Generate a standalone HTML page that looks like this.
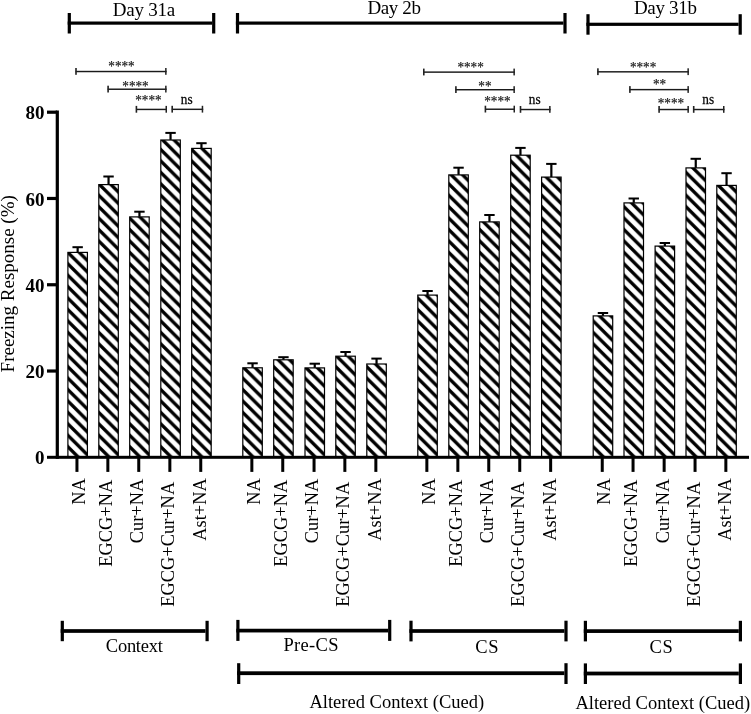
<!DOCTYPE html>
<html><head><meta charset="utf-8"><title>Freezing Response</title>
<style>
html,body{margin:0;padding:0;background:#fff;}
body{width:751px;height:714px;overflow:hidden;}
svg{display:block;}
text{font-family:"Liberation Serif","Times New Roman",serif;fill:#000;}
.b{font-weight:bold;}
</style></head><body>
<svg width="751" height="714" viewBox="0 0 751 714">
<defs>
<pattern id="h" patternUnits="userSpaceOnUse" x="0" y="-11.15" width="11.43" height="11.43"><path d="M-11.43,-11.43 L22.86,22.86 M-22.86,-11.43 L11.43,22.86 M0,-11.43 L34.29,22.86" stroke="#000" stroke-width="3.323"/></pattern>
</defs>
<rect width="751" height="714" fill="#fff"/>
<rect x="76.55" y="247.20" width="2.2" height="5.10" fill="#000"/><rect x="72.45" y="246.20" width="10.4" height="2" fill="#000"/><g transform="translate(67.30,457.3)"><rect x="0.6" y="-204.90" width="19.50" height="204.90" fill="url(#h)" stroke="#000" stroke-width="1.2"/></g>
<rect x="107.45" y="176.50" width="2.2" height="8.00" fill="#000"/><rect x="103.35" y="175.50" width="10.4" height="2" fill="#000"/><g transform="translate(98.20,457.3)"><rect x="0.6" y="-272.70" width="19.50" height="272.70" fill="url(#h)" stroke="#000" stroke-width="1.2"/></g>
<rect x="138.35" y="211.70" width="2.2" height="5.10" fill="#000"/><rect x="134.25" y="210.70" width="10.4" height="2" fill="#000"/><g transform="translate(129.10,457.3)"><rect x="0.6" y="-240.40" width="19.50" height="240.40" fill="url(#h)" stroke="#000" stroke-width="1.2"/></g>
<rect x="169.45" y="132.90" width="2.2" height="7.00" fill="#000"/><rect x="165.35" y="131.90" width="10.4" height="2" fill="#000"/><g transform="translate(160.20,457.3)"><rect x="0.6" y="-317.30" width="19.50" height="317.30" fill="url(#h)" stroke="#000" stroke-width="1.2"/></g>
<rect x="200.35" y="143.20" width="2.2" height="5.10" fill="#000"/><rect x="196.25" y="142.20" width="10.4" height="2" fill="#000"/><g transform="translate(191.10,457.3)"><rect x="0.6" y="-308.90" width="19.50" height="308.90" fill="url(#h)" stroke="#000" stroke-width="1.2"/></g>
<rect x="251.45" y="363.30" width="2.2" height="4.40" fill="#000"/><rect x="247.35" y="362.30" width="10.4" height="2" fill="#000"/><g transform="translate(242.20,457.3)"><rect x="0.6" y="-89.50" width="19.50" height="89.50" fill="url(#h)" stroke="#000" stroke-width="1.2"/></g>
<rect x="282.35" y="357.20" width="2.2" height="2.50" fill="#000"/><rect x="278.25" y="356.20" width="10.4" height="2" fill="#000"/><g transform="translate(273.10,457.3)"><rect x="0.6" y="-97.50" width="19.50" height="97.50" fill="url(#h)" stroke="#000" stroke-width="1.2"/></g>
<rect x="313.65" y="363.70" width="2.2" height="4.10" fill="#000"/><rect x="309.55" y="362.70" width="10.4" height="2" fill="#000"/><g transform="translate(304.40,457.3)"><rect x="0.6" y="-89.40" width="19.50" height="89.40" fill="url(#h)" stroke="#000" stroke-width="1.2"/></g>
<rect x="344.45" y="352.00" width="2.2" height="4.10" fill="#000"/><rect x="340.35" y="351.00" width="10.4" height="2" fill="#000"/><g transform="translate(335.20,457.3)"><rect x="0.6" y="-101.10" width="19.50" height="101.10" fill="url(#h)" stroke="#000" stroke-width="1.2"/></g>
<rect x="375.45" y="358.60" width="2.2" height="5.30" fill="#000"/><rect x="371.35" y="357.60" width="10.4" height="2" fill="#000"/><g transform="translate(366.20,457.3)"><rect x="0.6" y="-93.30" width="19.50" height="93.30" fill="url(#h)" stroke="#000" stroke-width="1.2"/></g>
<rect x="426.45" y="291.00" width="2.2" height="4.00" fill="#000"/><rect x="422.35" y="290.00" width="10.4" height="2" fill="#000"/><g transform="translate(417.20,457.3)"><rect x="0.6" y="-162.20" width="19.50" height="162.20" fill="url(#h)" stroke="#000" stroke-width="1.2"/></g>
<rect x="457.45" y="167.70" width="2.2" height="7.10" fill="#000"/><rect x="453.35" y="166.70" width="10.4" height="2" fill="#000"/><g transform="translate(448.20,457.3)"><rect x="0.6" y="-282.40" width="19.50" height="282.40" fill="url(#h)" stroke="#000" stroke-width="1.2"/></g>
<rect x="488.35" y="215.00" width="2.2" height="6.80" fill="#000"/><rect x="484.25" y="214.00" width="10.4" height="2" fill="#000"/><g transform="translate(479.10,457.3)"><rect x="0.6" y="-235.40" width="19.50" height="235.40" fill="url(#h)" stroke="#000" stroke-width="1.2"/></g>
<rect x="519.35" y="147.90" width="2.2" height="7.20" fill="#000"/><rect x="515.25" y="146.90" width="10.4" height="2" fill="#000"/><g transform="translate(510.10,457.3)"><rect x="0.6" y="-302.10" width="19.50" height="302.10" fill="url(#h)" stroke="#000" stroke-width="1.2"/></g>
<rect x="550.25" y="163.90" width="2.2" height="13.10" fill="#000"/><rect x="546.15" y="162.90" width="10.4" height="2" fill="#000"/><g transform="translate(541.00,457.3)"><rect x="0.6" y="-280.20" width="19.50" height="280.20" fill="url(#h)" stroke="#000" stroke-width="1.2"/></g>
<rect x="601.85" y="313.00" width="2.2" height="2.80" fill="#000"/><rect x="597.75" y="312.00" width="10.4" height="2" fill="#000"/><g transform="translate(592.60,457.3)"><rect x="0.6" y="-141.40" width="19.50" height="141.40" fill="url(#h)" stroke="#000" stroke-width="1.2"/></g>
<rect x="632.65" y="198.50" width="2.2" height="4.30" fill="#000"/><rect x="628.55" y="197.50" width="10.4" height="2" fill="#000"/><g transform="translate(623.40,457.3)"><rect x="0.6" y="-254.40" width="19.50" height="254.40" fill="url(#h)" stroke="#000" stroke-width="1.2"/></g>
<rect x="663.75" y="243.00" width="2.2" height="3.00" fill="#000"/><rect x="659.65" y="242.00" width="10.4" height="2" fill="#000"/><g transform="translate(654.50,457.3)"><rect x="0.6" y="-211.20" width="19.50" height="211.20" fill="url(#h)" stroke="#000" stroke-width="1.2"/></g>
<rect x="694.65" y="158.80" width="2.2" height="9.00" fill="#000"/><rect x="690.55" y="157.80" width="10.4" height="2" fill="#000"/><g transform="translate(685.40,457.3)"><rect x="0.6" y="-289.40" width="19.50" height="289.40" fill="url(#h)" stroke="#000" stroke-width="1.2"/></g>
<rect x="725.45" y="173.20" width="2.2" height="12.10" fill="#000"/><rect x="721.35" y="172.20" width="10.4" height="2" fill="#000"/><g transform="translate(716.20,457.3)"><rect x="0.6" y="-271.90" width="19.50" height="271.90" fill="url(#h)" stroke="#000" stroke-width="1.2"/></g>
<rect x="47" y="455.8" width="702" height="3.0" fill="#000"/>
<rect x="55.7" y="110.5" width="3.2" height="348.30" fill="#000"/>
<rect x="47" y="369.42" width="10" height="3.2" fill="#000"/><text class="b" x="44.6" y="378.12" font-size="19" text-anchor="end">20</text>
<rect x="47" y="283.15" width="10" height="3.2" fill="#000"/><text class="b" x="44.6" y="291.85" font-size="19" text-anchor="end">40</text>
<rect x="47" y="196.87" width="10" height="3.2" fill="#000"/><text class="b" x="44.6" y="205.57" font-size="19" text-anchor="end">60</text>
<rect x="47" y="110.60" width="10" height="3.2" fill="#000"/><text class="b" x="44.6" y="119.30" font-size="19" text-anchor="end">80</text>
<text class="b" x="44.6" y="464.40" font-size="19" text-anchor="end">0</text>
<rect x="75.45" y="457.30" width="3" height="14.60" fill="#000"/><text transform="translate(84.85,478.30) rotate(-90)" font-size="18.4" text-anchor="end">NA</text>
<rect x="106.35" y="457.30" width="3" height="14.60" fill="#000"/><text transform="translate(111.95,479.80) rotate(-90)" font-size="18.4" text-anchor="end">EGCG+NA</text>
<rect x="137.25" y="457.30" width="3" height="14.60" fill="#000"/><text transform="translate(143.15,478.80) rotate(-90)" font-size="18.4" text-anchor="end">Cur+NA</text>
<rect x="168.35" y="457.30" width="3" height="14.60" fill="#000"/><text transform="translate(174.45,481.80) rotate(-90)" font-size="18.4" text-anchor="end">EGCG+Cur+NA</text>
<rect x="199.25" y="457.30" width="3" height="14.60" fill="#000"/><text transform="translate(205.75,478.30) rotate(-90)" font-size="18.4" text-anchor="end">Ast+NA</text>
<rect x="250.35" y="457.30" width="3" height="14.60" fill="#000"/><text transform="translate(259.75,478.30) rotate(-90)" font-size="18.4" text-anchor="end">NA</text>
<rect x="281.25" y="457.30" width="3" height="14.60" fill="#000"/><text transform="translate(286.85,479.80) rotate(-90)" font-size="18.4" text-anchor="end">EGCG+NA</text>
<rect x="312.55" y="457.30" width="3" height="14.60" fill="#000"/><text transform="translate(318.45,478.80) rotate(-90)" font-size="18.4" text-anchor="end">Cur+NA</text>
<rect x="343.35" y="457.30" width="3" height="14.60" fill="#000"/><text transform="translate(349.45,481.80) rotate(-90)" font-size="18.4" text-anchor="end">EGCG+Cur+NA</text>
<rect x="374.35" y="457.30" width="3" height="14.60" fill="#000"/><text transform="translate(380.85,478.30) rotate(-90)" font-size="18.4" text-anchor="end">Ast+NA</text>
<rect x="425.35" y="457.30" width="3" height="14.60" fill="#000"/><text transform="translate(434.75,478.30) rotate(-90)" font-size="18.4" text-anchor="end">NA</text>
<rect x="456.35" y="457.30" width="3" height="14.60" fill="#000"/><text transform="translate(461.95,479.80) rotate(-90)" font-size="18.4" text-anchor="end">EGCG+NA</text>
<rect x="487.25" y="457.30" width="3" height="14.60" fill="#000"/><text transform="translate(493.15,478.80) rotate(-90)" font-size="18.4" text-anchor="end">Cur+NA</text>
<rect x="518.25" y="457.30" width="3" height="14.60" fill="#000"/><text transform="translate(524.35,481.80) rotate(-90)" font-size="18.4" text-anchor="end">EGCG+Cur+NA</text>
<rect x="549.15" y="457.30" width="3" height="14.60" fill="#000"/><text transform="translate(555.65,478.30) rotate(-90)" font-size="18.4" text-anchor="end">Ast+NA</text>
<rect x="600.75" y="457.30" width="3" height="14.60" fill="#000"/><text transform="translate(610.15,478.30) rotate(-90)" font-size="18.4" text-anchor="end">NA</text>
<rect x="631.55" y="457.30" width="3" height="14.60" fill="#000"/><text transform="translate(637.15,479.80) rotate(-90)" font-size="18.4" text-anchor="end">EGCG+NA</text>
<rect x="662.65" y="457.30" width="3" height="14.60" fill="#000"/><text transform="translate(668.55,478.80) rotate(-90)" font-size="18.4" text-anchor="end">Cur+NA</text>
<rect x="693.55" y="457.30" width="3" height="14.60" fill="#000"/><text transform="translate(699.65,481.80) rotate(-90)" font-size="18.4" text-anchor="end">EGCG+Cur+NA</text>
<rect x="724.35" y="457.30" width="3" height="14.60" fill="#000"/><text transform="translate(730.85,478.30) rotate(-90)" font-size="18.4" text-anchor="end">Ast+NA</text>
<text transform="translate(13.9,283.8) rotate(-90)" font-size="19" text-anchor="middle">Freezing Response (%)</text>
<rect x="67.70" y="21.50" width="144.40" height="3.2" fill="#000"/><rect x="67.70" y="13.00" width="3.2" height="20.50" fill="#000"/><rect x="212.10" y="13.00" width="3.2" height="20.50" fill="#000"/>
<text x="143.9" y="15.9" font-size="19" letter-spacing="-0.25" text-anchor="middle">Day 31a</text>
<rect x="235.90" y="21.50" width="327.50" height="3.2" fill="#000"/><rect x="235.90" y="13.00" width="3.2" height="20.50" fill="#000"/><rect x="563.40" y="13.00" width="3.2" height="20.50" fill="#000"/>
<text x="394.0" y="13.8" font-size="19" letter-spacing="-0.4" text-anchor="middle">Day 2b</text>
<rect x="586.40" y="22.70" width="152.20" height="3.2" fill="#000"/><rect x="586.40" y="14.20" width="3.2" height="20.50" fill="#000"/><rect x="738.60" y="14.20" width="3.2" height="20.50" fill="#000"/>
<text x="665.3" y="14.2" font-size="19" letter-spacing="-0.3" text-anchor="middle">Day 31b</text>
<rect x="60.70" y="629.15" width="144.80" height="3.7" fill="#000"/><rect x="60.70" y="620.80" width="3.2" height="20.40" fill="#000"/><rect x="205.50" y="620.80" width="3.2" height="20.40" fill="#000"/>
<text x="134.2" y="651.9" font-size="18.5" letter-spacing="-0.27" text-anchor="middle">Context</text>
<rect x="236.30" y="628.75" width="151.80" height="3.7" fill="#000"/><rect x="236.30" y="619.90" width="3.2" height="21.00" fill="#000"/><rect x="388.10" y="619.90" width="3.2" height="21.00" fill="#000"/>
<text x="311.1" y="650.9" font-size="18.5" letter-spacing="0.3" text-anchor="middle">Pre-CS</text>
<rect x="409.40" y="629.15" width="155.00" height="3.7" fill="#000"/><rect x="409.40" y="620.70" width="3.2" height="20.70" fill="#000"/><rect x="564.40" y="620.70" width="3.2" height="20.70" fill="#000"/>
<text x="487.3" y="652.6" font-size="18.5" letter-spacing="0.8" text-anchor="middle">CS</text>
<rect x="583.80" y="629.25" width="155.00" height="3.7" fill="#000"/><rect x="583.80" y="620.80" width="3.2" height="20.60" fill="#000"/><rect x="738.80" y="620.80" width="3.2" height="20.60" fill="#000"/>
<text x="661.5" y="652.9" font-size="18.5" letter-spacing="0.8" text-anchor="middle">CS</text>
<rect x="237.10" y="671.30" width="327.30" height="3.8" fill="#000"/><rect x="237.10" y="663.20" width="3.2" height="20.80" fill="#000"/><rect x="564.40" y="663.20" width="3.2" height="20.80" fill="#000"/>
<text x="396.8" y="708" font-size="18.5" text-anchor="middle">Altered Context (Cued)</text>
<rect x="583.80" y="671.60" width="155.00" height="3.8" fill="#000"/><rect x="583.80" y="663.40" width="3.2" height="20.60" fill="#000"/><rect x="738.80" y="663.40" width="3.2" height="20.60" fill="#000"/>
<text x="662.8" y="709.3" font-size="18.5" text-anchor="middle">Altered Context (Cued)</text>
<rect x="75.60" y="70.80" width="91.00" height="1.45" fill="#1a1a1a"/><rect x="75.20" y="68.00" width="1.6" height="6.8" fill="#222"/><rect x="165.10" y="68.00" width="1.5" height="6.8" fill="#222"/><text transform="translate(121.50,71.30) scale(1,1.12)" font-size="13.2" text-anchor="middle" fill="#333" stroke="#333" stroke-width="0.2">****</text>
<rect x="107.70" y="88.50" width="58.90" height="1.45" fill="#1a1a1a"/><rect x="107.30" y="85.70" width="1.6" height="6.8" fill="#222"/><rect x="165.10" y="85.70" width="1.5" height="6.8" fill="#222"/><text transform="translate(135.50,90.70) scale(1,1.12)" font-size="13.2" text-anchor="middle" fill="#333" stroke="#333" stroke-width="0.2">****</text>
<rect x="136.00" y="108.70" width="31.00" height="1.45" fill="#1a1a1a"/><rect x="135.60" y="105.90" width="1.6" height="6.8" fill="#222"/><rect x="165.50" y="105.90" width="1.5" height="6.8" fill="#222"/><text transform="translate(148.40,105.30) scale(1,1.12)" font-size="13.2" text-anchor="middle" fill="#333" stroke="#333" stroke-width="0.2">****</text>
<rect x="171.80" y="108.60" width="31.40" height="1.45" fill="#1a1a1a"/><rect x="171.40" y="105.80" width="1.6" height="6.8" fill="#222"/><rect x="201.70" y="105.80" width="1.5" height="6.8" fill="#222"/><text transform="translate(186.70,103.80) scale(1,1.08)" font-size="13.3" text-anchor="middle" fill="#111" stroke="#111" stroke-width="0.25">ns</text>
<rect x="423.40" y="71.40" width="91.50" height="1.45" fill="#1a1a1a"/><rect x="423.00" y="68.60" width="1.6" height="6.8" fill="#222"/><rect x="513.40" y="68.60" width="1.5" height="6.8" fill="#222"/><text transform="translate(470.60,71.60) scale(1,1.12)" font-size="13.2" text-anchor="middle" fill="#333" stroke="#333" stroke-width="0.2">****</text>
<rect x="455.50" y="89.00" width="59.40" height="1.45" fill="#1a1a1a"/><rect x="455.10" y="86.20" width="1.6" height="6.8" fill="#222"/><rect x="513.40" y="86.20" width="1.5" height="6.8" fill="#222"/><text transform="translate(484.90,90.50) scale(1,1.12)" font-size="13.2" text-anchor="middle" fill="#333" stroke="#333" stroke-width="0.2">**</text>
<rect x="485.00" y="108.50" width="30.00" height="1.45" fill="#1a1a1a"/><rect x="484.60" y="105.70" width="1.6" height="6.8" fill="#222"/><rect x="513.50" y="105.70" width="1.5" height="6.8" fill="#222"/><text transform="translate(497.40,106.20) scale(1,1.12)" font-size="13.2" text-anchor="middle" fill="#333" stroke="#333" stroke-width="0.2">****</text>
<rect x="520.10" y="108.80" width="30.50" height="1.45" fill="#1a1a1a"/><rect x="519.70" y="106.00" width="1.6" height="6.8" fill="#222"/><rect x="549.10" y="106.00" width="1.5" height="6.8" fill="#222"/><text transform="translate(534.70,103.60) scale(1,1.08)" font-size="13.3" text-anchor="middle" fill="#111" stroke="#111" stroke-width="0.25">ns</text>
<rect x="597.50" y="71.10" width="91.40" height="1.45" fill="#1a1a1a"/><rect x="597.10" y="68.30" width="1.6" height="6.8" fill="#222"/><rect x="687.40" y="68.30" width="1.5" height="6.8" fill="#222"/><text transform="translate(643.10,71.70) scale(1,1.12)" font-size="13.2" text-anchor="middle" fill="#333" stroke="#333" stroke-width="0.2">****</text>
<rect x="629.50" y="88.90" width="59.40" height="1.45" fill="#1a1a1a"/><rect x="629.10" y="86.10" width="1.6" height="6.8" fill="#222"/><rect x="687.40" y="86.10" width="1.5" height="6.8" fill="#222"/><text transform="translate(659.60,89.30) scale(1,1.12)" font-size="13.2" text-anchor="middle" fill="#333" stroke="#333" stroke-width="0.2">**</text>
<rect x="658.70" y="108.80" width="30.20" height="1.45" fill="#1a1a1a"/><rect x="658.30" y="106.00" width="1.6" height="6.8" fill="#222"/><rect x="687.40" y="106.00" width="1.5" height="6.8" fill="#222"/><text transform="translate(670.90,107.50) scale(1,1.12)" font-size="13.2" text-anchor="middle" fill="#333" stroke="#333" stroke-width="0.2">****</text>
<rect x="693.30" y="108.80" width="31.20" height="1.45" fill="#1a1a1a"/><rect x="692.90" y="106.00" width="1.6" height="6.8" fill="#222"/><rect x="723.00" y="106.00" width="1.5" height="6.8" fill="#222"/><text transform="translate(708.20,103.60) scale(1,1.08)" font-size="13.3" text-anchor="middle" fill="#111" stroke="#111" stroke-width="0.25">ns</text>
</svg>
</body></html>
